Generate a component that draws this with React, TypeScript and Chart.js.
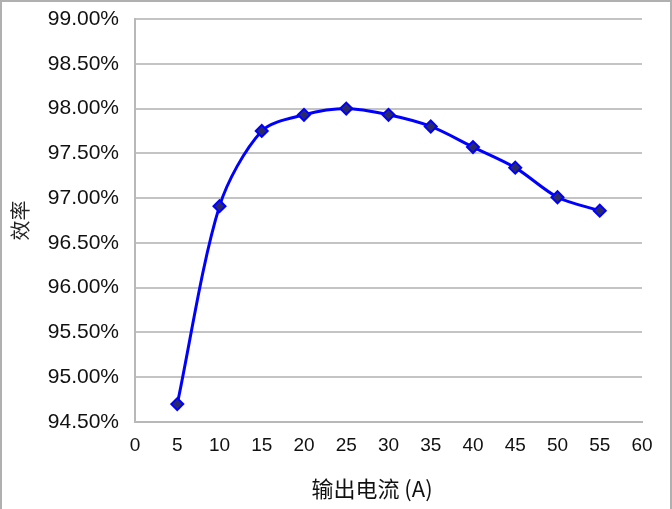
import React, { useEffect, useRef } from "react";
import { Chart, registerables } from "chart.js";

Chart.register(...registerables);

const currents = [5, 10, 15, 20, 25, 30, 35, 40, 45, 50, 55];
const efficiency = [94.7, 96.91, 97.75, 97.93, 98.0, 97.93, 97.8, 97.57, 97.34, 97.01, 96.86];
const xTitle = "输出电流 (A)";
const yTitle = "效率";

const xTitlePlugin = {
  id: "xTitlePlugin",
  afterDraw(chart: any) {
    const ctx = chart.ctx;
    ctx.save();
    ctx.fillStyle = "#111";
    ctx.font = "22px 'Noto Sans CJK SC', 'Liberation Sans', sans-serif";
    ctx.textAlign = "center";
    ctx.textBaseline = "middle";
    ctx.fillText(xTitle, 372, 489);
    ctx.restore();
  },
};

export default function App() {
  const ref = useRef<HTMLCanvasElement | null>(null);

  useEffect(() => {
    if (!ref.current) return;
    const chart = new Chart(ref.current, {
      type: "line",
      data: {
        datasets: [
          {
            data: currents.map((x, i) => ({ x, y: efficiency[i] })),
            borderColor: "#0000ff",
            borderWidth: 3,
            tension: 0.3,
            pointStyle: "rectRot",
            pointRadius: 6,
            pointBackgroundColor: "#2a2a6a",
            pointBorderColor: "#0000ff",
            pointBorderWidth: 2,
            fill: false,
          },
        ],
      },
      options: {
        animation: false,
        responsive: false,
        layout: { padding: { left: 0, right: 30, top: 19, bottom: 0 } },
        plugins: { legend: { display: false }, tooltip: { enabled: false } },
        scales: {
          x: {
            type: "linear",
            min: 0,
            max: 60,
            ticks: {
              stepSize: 5,
              padding: 12,
              color: "#111",
              font: { family: "'Liberation Sans', Arial, sans-serif", size: 19 },
              maxRotation: 0,
            },
            grid: { display: false, drawTicks: false },
            border: { display: true, color: "#b8b8b8", width: 2 },
            afterFit: (s: any) => {
              s.height = 87;
              s.paddingLeft = 0;
              s.paddingRight = 0;
            },
          },
          y: {
            min: 94.5,
            max: 99,
            ticks: {
              stepSize: 0.5,
              padding: 16,
              color: "#111",
              font: { family: "'Liberation Sans', Arial, sans-serif", size: 21 },
              callback: (v: any) => Number(v).toFixed(2) + "%",
            },
            grid: { color: "#c4c4c4", lineWidth: 2, drawTicks: false },
            border: { display: true, color: "#b8b8b8", width: 2 },
            title: {
              display: true,
              text: yTitle,
              color: "#222",
              font: { family: "'Noto Sans CJK SC', sans-serif", size: 20 },
              padding: { top: 8, bottom: 0 },
            },
            afterFit: (s: any) => {
              s.width = 135;
              s.paddingTop = 0;
              s.paddingBottom = 0;
            },
          },
        },
      },
      plugins: [xTitlePlugin],
    });
    return () => chart.destroy();
  }, []);

  return (
    <div style={{ position: "fixed", left: 0, top: 0, width: 672, height: 509, background: "#fff" }}>
      <canvas ref={ref} width={672} height={509} style={{ position: "absolute", left: 0, top: 0 }} />
      <div
        style={{
          position: "absolute",
          left: 0,
          top: 0,
          width: 668,
          height: 509,
          borderLeft: "2px solid #b0b0b0",
          borderTop: "2px solid #b0b0b0",
          borderRight: "2px solid #b0b0b0",
          pointerEvents: "none",
        }}
      />
    </div>
  );
}
